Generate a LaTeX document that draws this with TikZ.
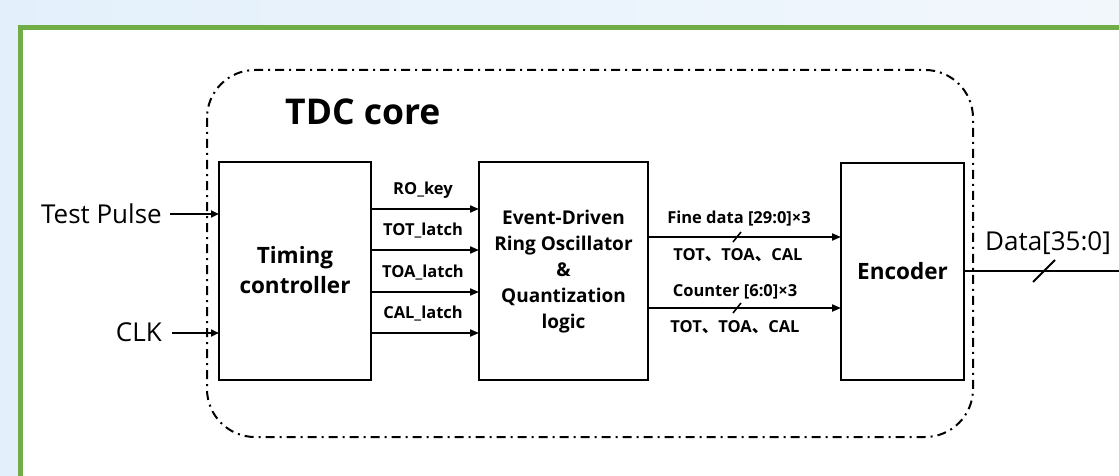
\documentclass[tikz,border=0pt]{standalone}
\usepackage{fontspec}
\setmainfont{Open Sans}
\newfontfamily\cjk{Noto Sans CJK SC}
\usetikzlibrary{arrows.meta}
\definecolor{bgL}{RGB}{227,240,251}
\definecolor{bgR}{RGB}{242,247,252}
\definecolor{frameG}{RGB}{112,173,71}
\newcommand{\dn}{{\cjk 、}}
\tikzset{
  blk/.style={draw=black, line width=2pt, fill=white},
  lbl/.style={font=\bfseries\fontsize{16.5}{18}\selectfont, inner sep=0pt},
  sig/.style={line width=2pt, -{Triangle[length=9pt,width=7pt]}},
  io/.style={font=\fontsize{26}{28}\selectfont, inner sep=0pt},
  slashmk/.style={line width=1.6pt},
}
\begin{document}
\begin{tikzpicture}[x=1pt,y=-1pt]
\useasboundingbox (0,0) rectangle (1119,476);
\shade[left color=bgL, right color=bgR] (0,0) rectangle (1119,476);
\draw[frameG, line width=5pt, fill=white] (20,28) rectangle (1140,500);
% TDC core dash-dot
\draw[line width=2pt, rounded corners=48pt, dash pattern=on 9pt off 5pt on 2pt off 5pt] (207,70) rectangle (973,437);
\node[font=\bfseries\fontsize{35.5}{40}\selectfont, anchor=west, inner sep=0pt] (title) at (285,112) {TDC core};
% blocks
\draw[blk] (219,162) rectangle (371,380);
\node[font=\bfseries\fontsize{22.5}{30}\selectfont, align=center] (tc) at (295,270) {Timing\\controller};
\draw[blk] (479,162) rectangle (648,380);
\node[font=\bfseries\fontsize{19}{26}\selectfont, align=center] (ro) at (563.5,272) {Event-Driven\\Ring Oscillator\\\&\\Quantization\\logic};
\draw[blk] (841,163) rectangle (964,380);
\node[font=\bfseries\fontsize{22.5}{27}\selectfont] (enc) at (902.5,271) {Encoder};
% inputs
\coordinate (tpS) at (170,214); \coordinate (tpE) at (219,214);
\coordinate (ckS) at (172,333); \coordinate (ckE) at (219,333);
\node[io, anchor=east] (tp) at (162,214) {Test Pulse};
\node[io, anchor=east] (ck) at (162,332) {CLK};
\draw[line width=2pt, -{Triangle[length=8pt,width=7pt]}] (tpS) -- (tpE);
\draw[line width=2pt, -{Triangle[length=8pt,width=7pt]}] (ckS) -- (ckE);
% control signals
\foreach \y/\t [count=\i] in {209/RO\_key, 250/TOT\_latch, 292/TOA\_latch, 333/CAL\_latch}{
  \coordinate (s\i) at (371,\y);
  \coordinate (e\i) at (479,\y);
  \draw[sig] (s\i) -- (e\i);
  \node[lbl] (l\i) at (423,\y-19) {\t};
}
% data buses
\coordinate (f1) at (648,237); \coordinate (f2) at (841,237);
\coordinate (c1) at (648,308); \coordinate (c2) at (841,308);
\draw[sig] (f1) -- (f2);
\draw[sig] (c1) -- (c2);
\draw[slashmk] (733,242) -- (741,232);
\draw[slashmk] (733,313) -- (741,303);
\node[lbl] (fd) at (739,219) {Fine data [29:0]×3};
\node[lbl] (fdt) at (738,255) {TOT\dn TOA\dn CAL};
\node[lbl] (cn) at (735,292) {Counter [6:0]×3};
\node[lbl] (cnt) at (735,327) {TOT\dn TOA\dn CAL};
% output
\coordinate (o1) at (964,271); \coordinate (o2) at (1119,271);
\draw[line width=2pt] (o1) -- (o2);
\draw[line width=2pt] (1033,282) -- (1055,260);
\node[io] (dout) at (1048,243) {Data[35:0]};
\end{tikzpicture}
\end{document}
